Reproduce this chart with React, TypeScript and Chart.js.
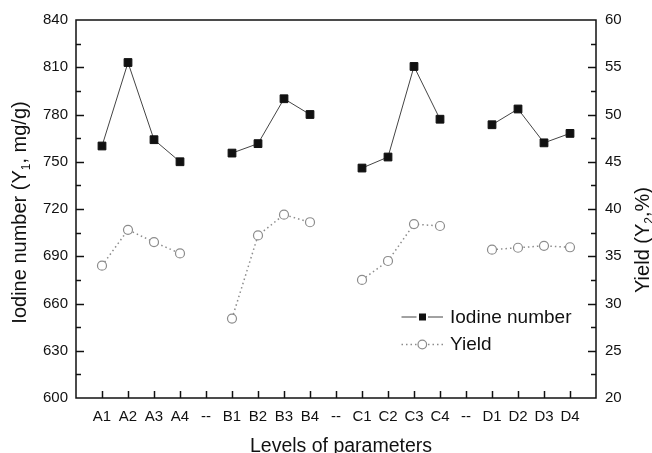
import React, { useEffect, useRef } from 'react';
import { Chart, registerables } from 'chart.js';

Chart.register(...registerables);

// ---------- data ----------
const categories = ['A1', 'A2', 'A3', 'A4', '--', 'B1', 'B2', 'B3', 'B4', '--', 'C1', 'C2', 'C3', 'C4', '--', 'D1', 'D2', 'D3', 'D4'];
const iodineNumber: (number | null)[] = [760, 813, 764, 750, null, 755.5, 761.5, 790, 780, null, 746, 753, 810.5, 777, null, 773.5, 783.5, 762, 768];
const yieldPct: (number | null)[] = [34.0, 37.8, 36.5, 35.3, null, 28.4, 37.2, 39.4, 38.6, null, 32.5, 34.5, 38.4, 38.2, null, 35.7, 35.9, 36.1, 35.95];
const seriesNames = ['Iodine number', 'Yield'];
const leftAxisRange = [600, 840];
const leftAxisStep = 15;
const leftAxisLabelStep = 30;
const rightAxisRange = [20, 60];
const rightAxisStep = 2.5;
const rightAxisLabelStep = 5;
const xTitle = 'Levels of parameters';

const FONT = "'Liberation Sans', Arial, sans-serif";
const TEXT = '#111';

type Seg = { t: string; sub?: boolean };
const leftTitle: Seg[] = [{ t: 'Iodine number (Y' }, { t: '1', sub: true }, { t: ', mg/g)' }];
const rightTitle: Seg[] = [{ t: 'Yield (Y' }, { t: '2', sub: true }, { t: ',%)' }];

function drawRich(ctx: CanvasRenderingContext2D, segs: Seg[], x: number, y: number, size: number) {
  ctx.save();
  ctx.translate(x, y);
  ctx.rotate(-Math.PI / 2);
  ctx.textBaseline = 'alphabetic';
  ctx.textAlign = 'left';
  ctx.fillStyle = TEXT;
  const subSize = Math.round(size * 0.6);
  let total = 0;
  const widths = segs.map((s) => {
    ctx.font = `${s.sub ? subSize : size}px ${FONT}`;
    const w = ctx.measureText(s.t).width;
    total += w;
    return w;
  });
  let cx = -total / 2;
  segs.forEach((s, i) => {
    ctx.font = `${s.sub ? subSize : size}px ${FONT}`;
    ctx.fillText(s.t, cx, s.sub ? size * 0.22 : 0);
    cx += widths[i];
  });
  ctx.restore();
}

const decorPlugin = {
  id: 'decor',
  afterDraw(chart: any) {
    const { ctx, chartArea: a, scales } = chart;
    ctx.save();
    ctx.strokeStyle = '#111';
    ctx.lineWidth = 1.5;
    // inward ticks
    const drawVTicks = (scale: any, side: 'left' | 'right') => {
      scale.ticks.forEach((t: any) => {
        if (t.value <= scale.min || t.value >= scale.max) return;
        const major = t.label !== '' && t.label !== undefined;
        const len = major ? 8 : 5;
        const py = Math.round(scale.getPixelForValue(t.value)) + 0.5;
        ctx.beginPath();
        if (side === 'left') {
          ctx.moveTo(a.left, py);
          ctx.lineTo(a.left + len, py);
        } else {
          ctx.moveTo(a.right, py);
          ctx.lineTo(a.right - len, py);
        }
        ctx.stroke();
      });
    };
    drawVTicks(scales.y, 'left');
    drawVTicks(scales.y1, 'right');
    scales.x.ticks.forEach((t: any) => {
      if (t.value <= scales.x.min || t.value >= scales.x.max) return;
      const px = Math.round(scales.x.getPixelForValue(t.value)) + 0.5;
      ctx.beginPath();
      ctx.moveTo(px, a.bottom);
      ctx.lineTo(px, a.bottom - 7);
      ctx.stroke();
    });
    // frame
    ctx.strokeRect(a.left, a.top, a.right - a.left, a.bottom - a.top);
    ctx.restore();

    // axis titles
    drawRich(ctx, leftTitle, 26, 212.5, 20);
    drawRich(ctx, rightTitle, 649, 240, 20);
    ctx.save();
    ctx.fillStyle = TEXT;
    ctx.font = `19.5px ${FONT}`;
    ctx.textAlign = 'center';
    ctx.textBaseline = 'alphabetic';
    ctx.fillText(xTitle, 341, 452);
    ctx.restore();

    // legend
    ctx.save();
    chart.data.datasets.forEach((ds: any, i: number) => {
      const ly = 317 + i * 27.5;
      ctx.strokeStyle = ds.borderColor;
      ctx.lineWidth = ds.borderWidth;
      ctx.setLineDash(ds.borderDash || []);
      ctx.beginPath();
      ctx.moveTo(401.5, ly);
      ctx.lineTo(416.5, ly);
      ctx.moveTo(428, ly);
      ctx.lineTo(443, ly);
      ctx.stroke();
      ctx.setLineDash([]);
      if (ds.pointStyle === 'rect') {
        ctx.fillStyle = ds.pointBackgroundColor;
        ctx.fillRect(419, ly - 3.5, 7, 7);
      } else {
        ctx.beginPath();
        ctx.arc(422.3, ly, 4.3, 0, Math.PI * 2);
        ctx.fillStyle = ds.pointBackgroundColor;
        ctx.fill();
        ctx.strokeStyle = ds.pointBorderColor;
        ctx.lineWidth = ds.pointBorderWidth;
        ctx.stroke();
      }
      ctx.fillStyle = TEXT;
      ctx.font = `19px ${FONT}`;
      ctx.textAlign = 'left';
      ctx.textBaseline = 'middle';
      ctx.fillText(ds.label, 450, ly + 0.5);
    });
    ctx.restore();
  },
};

export default function App() {
  const ref = useRef<HTMLCanvasElement>(null);
  useEffect(() => {
    if (!ref.current) return;
    const toPts = (arr: (number | null)[]) => arr.map((v, i) => ({ x: i + 1, y: v }));
    const chart = new Chart(ref.current, {
      type: 'line',
      data: {
        datasets: [
          {
            label: seriesNames[0],
            data: toPts(iodineNumber) as any,
            yAxisID: 'y',
            borderColor: '#444',
            borderWidth: 1,
            pointStyle: 'rect',
            pointRadius: 5.5,
            pointBackgroundColor: '#111',
            pointBorderColor: '#111',
            pointBorderWidth: 1,
            spanGaps: false,
            tension: 0,
          },
          {
            label: seriesNames[1],
            data: toPts(yieldPct) as any,
            yAxisID: 'y1',
            borderColor: '#8c8c8c',
            borderWidth: 1.5,
            borderDash: [1.5, 3],
            pointStyle: 'circle',
            pointRadius: 4.5,
            pointBackgroundColor: '#fff',
            pointBorderColor: '#8c8c8c',
            pointBorderWidth: 1.2,
            spanGaps: false,
            tension: 0,
          },
        ],
      },
      options: {
        animation: false,
        responsive: false,
        devicePixelRatio: 1,
        layout: { padding: { top: 20, left: 0, right: 0, bottom: 0 } },
        plugins: { legend: { display: false }, tooltip: { enabled: false } },
        scales: {
          x: {
            type: 'linear',
            min: 0,
            max: categories.length + 1,
            grid: { display: false, drawTicks: false },
            border: { display: false },
            ticks: {
              stepSize: 1,
              autoSkip: false,
              maxRotation: 0,
              padding: 10,
              color: TEXT,
              font: { family: FONT, size: 15 },
              callback: (v: any) => categories[Number(v) - 1] ?? '',
            },
            afterFit: (s: any) => { s.height = 55; },
          },
          y: {
            type: 'linear',
            position: 'left',
            min: leftAxisRange[0],
            max: leftAxisRange[1],
            grid: { display: false, drawTicks: false },
            border: { display: false },
            ticks: {
              stepSize: leftAxisStep,
              padding: 8,
              color: TEXT,
              font: { family: FONT, size: 15 },
              callback: (v: any) => ((Number(v) - leftAxisRange[0]) % leftAxisLabelStep === 0 ? String(v) : ''),
            },
            afterFit: (s: any) => { s.width = 76; },
          },
          y1: {
            type: 'linear',
            position: 'right',
            min: rightAxisRange[0],
            max: rightAxisRange[1],
            grid: { display: false, drawTicks: false },
            border: { display: false },
            ticks: {
              stepSize: rightAxisStep,
              padding: 9,
              color: TEXT,
              font: { family: FONT, size: 15 },
              callback: (v: any) => ((Number(v) - rightAxisRange[0]) % rightAxisLabelStep === 0 ? String(v) : ''),
            },
            afterFit: (s: any) => { s.width = 56; },
          },
        },
      },
      plugins: [decorPlugin],
    });
    return () => chart.destroy();
  }, []);
  return (
    <div style={{ position: 'fixed', left: 0, top: 0, width: 652, height: 453, background: '#fff' }}>
      <canvas ref={ref} width={652} height={453} style={{ width: 652, height: 453, display: 'block' }} />
    </div>
  );
}
